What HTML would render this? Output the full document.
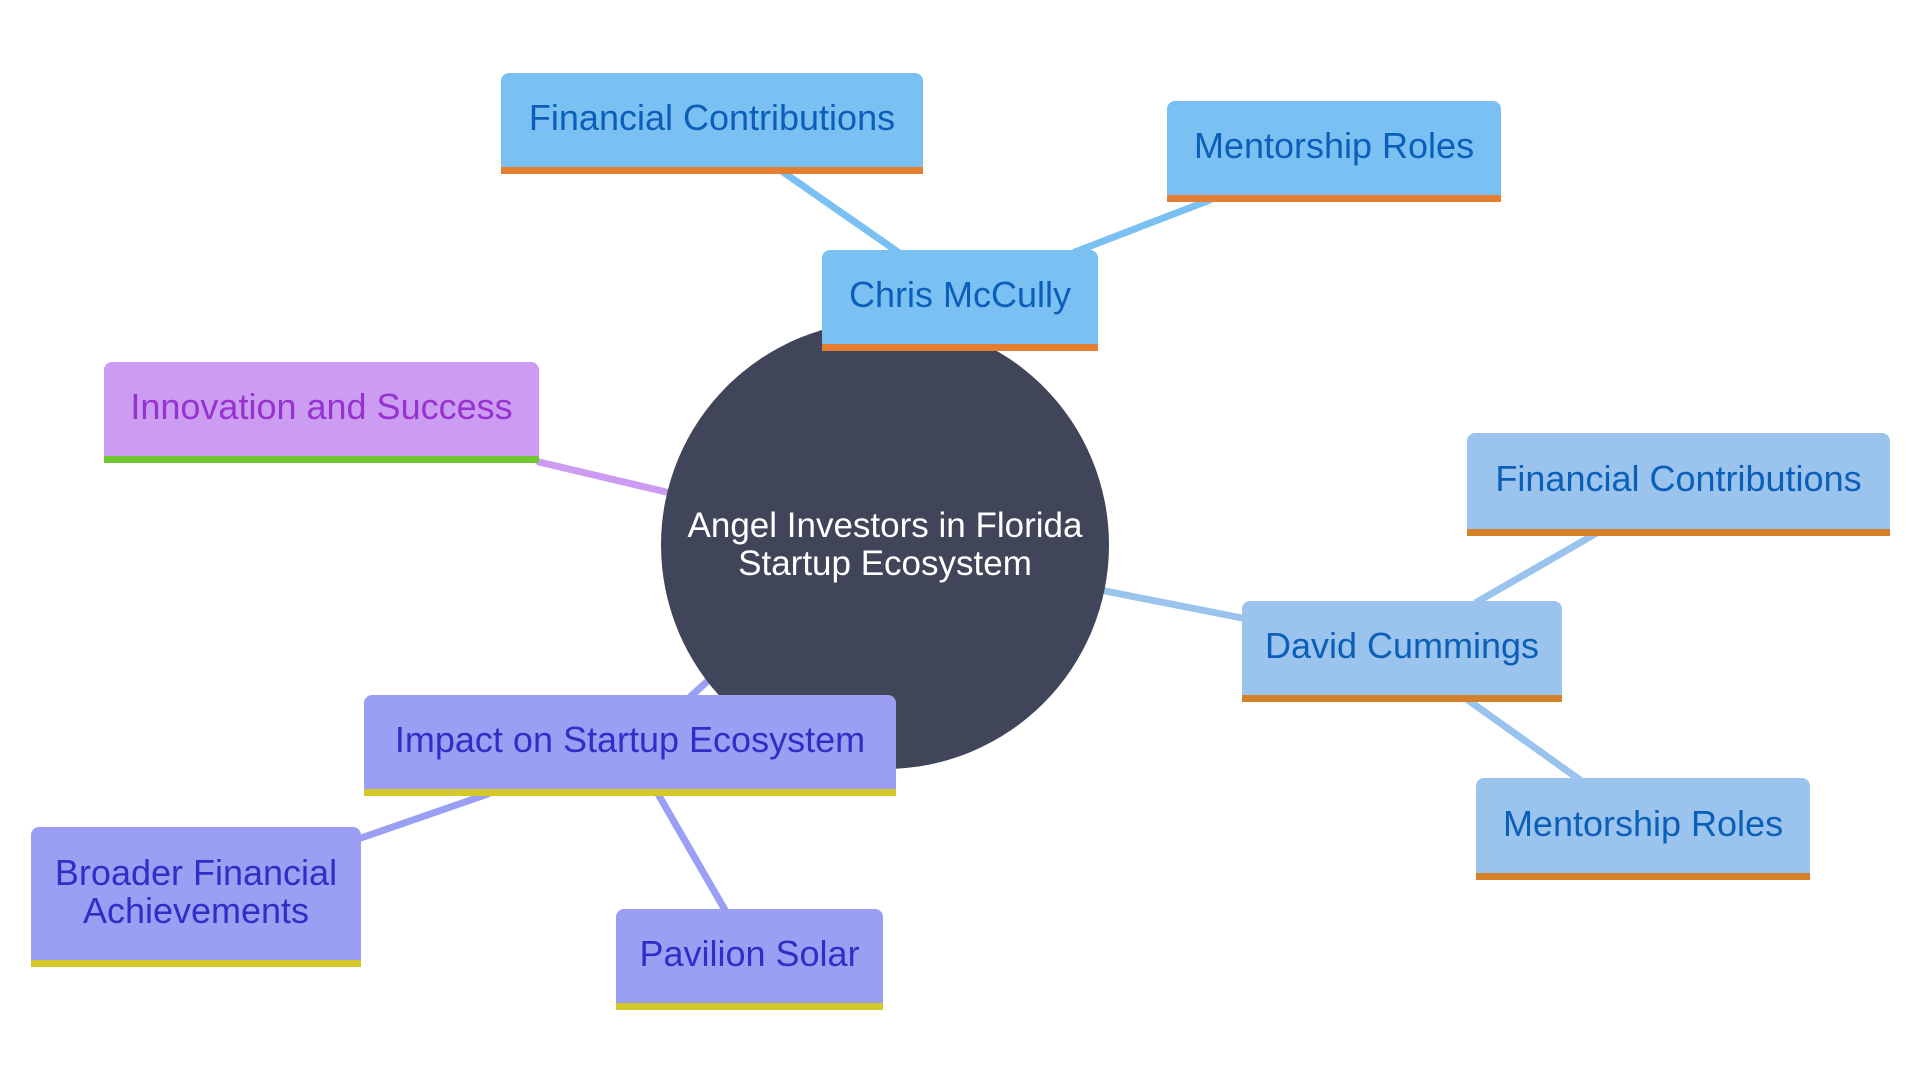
<!DOCTYPE html>
<html><head><meta charset="utf-8"><style>
html,body{margin:0;padding:0;background:#fff;width:1920px;height:1080px;overflow:hidden}
.n{position:absolute;box-sizing:border-box;border-radius:8px 8px 0 0;display:flex;align-items:center;justify-content:center;text-align:center;font-family:"Liberation Sans",sans-serif;font-size:36px;line-height:38px;padding-bottom:4px}
.c{position:absolute;left:661px;top:321px;width:448px;height:448px;border-radius:50%;background:#414559;color:#fff;display:flex;align-items:center;justify-content:center;text-align:center;font-family:"Liberation Sans",sans-serif;font-size:35px;line-height:38px}
.b1{background:#7bc0f2;color:#0b5fb8;border-bottom:7px solid #e67e32}
.b2{background:#9ac3ee;color:#0b5fb8;border-bottom:7px solid #d4822a}
.p{background:#cc9cf2;color:#9632d0;border-bottom:7px solid #72c832}
.v{background:#9a9ff3;color:#2f2fc8;border-bottom:7px solid #d4c82a}
</style></head><body>
<svg width="1920" height="1080" style="position:absolute;left:0;top:0" stroke-width="7" stroke-linecap="round">
<line x1="898" y1="252" x2="783" y2="172" stroke="#7bc0f2"/>
<line x1="1075" y1="252" x2="1210" y2="200" stroke="#7bc0f2"/>
<line x1="885" y1="545" x2="960" y2="300" stroke="#7bc0f2"/>
<line x1="539" y1="462" x2="700" y2="500" stroke="#cc9cf2"/>
<line x1="1100" y1="590" x2="1242" y2="618" stroke="#9ac3ee"/>
<line x1="1477" y1="602" x2="1595" y2="534" stroke="#9ac3ee"/>
<line x1="1468" y1="700" x2="1580" y2="780" stroke="#9ac3ee"/>
<line x1="690" y1="697" x2="720" y2="670" stroke="#9a9ff3"/>
<line x1="488" y1="794" x2="361" y2="838" stroke="#9a9ff3"/>
<line x1="658" y1="794" x2="725" y2="910" stroke="#9a9ff3"/>
</svg>
<div class="c">Angel Investors in Florida<br>Startup Ecosystem</div>
<div class="n b1" style="left:822px;top:250px;width:276px;height:101px">Chris McCully</div>
<div class="n b1" style="left:501px;top:73px;width:422px;height:101px">Financial Contributions</div>
<div class="n b1" style="left:1167px;top:101px;width:334px;height:101px">Mentorship Roles</div>
<div class="n p" style="left:104px;top:362px;width:435px;height:101px">Innovation and Success</div>
<div class="n b2" style="left:1242px;top:601px;width:320px;height:101px">David Cummings</div>
<div class="n b2" style="left:1467px;top:433px;width:423px;height:103px">Financial Contributions</div>
<div class="n b2" style="left:1476px;top:778px;width:334px;height:102px">Mentorship Roles</div>
<div class="n v" style="left:364px;top:695px;width:532px;height:101px">Impact on Startup Ecosystem</div>
<div class="n v" style="left:31px;top:827px;width:330px;height:140px">Broader Financial<br>Achievements</div>
<div class="n v" style="left:616px;top:909px;width:267px;height:101px">Pavilion Solar</div>
</body></html>
